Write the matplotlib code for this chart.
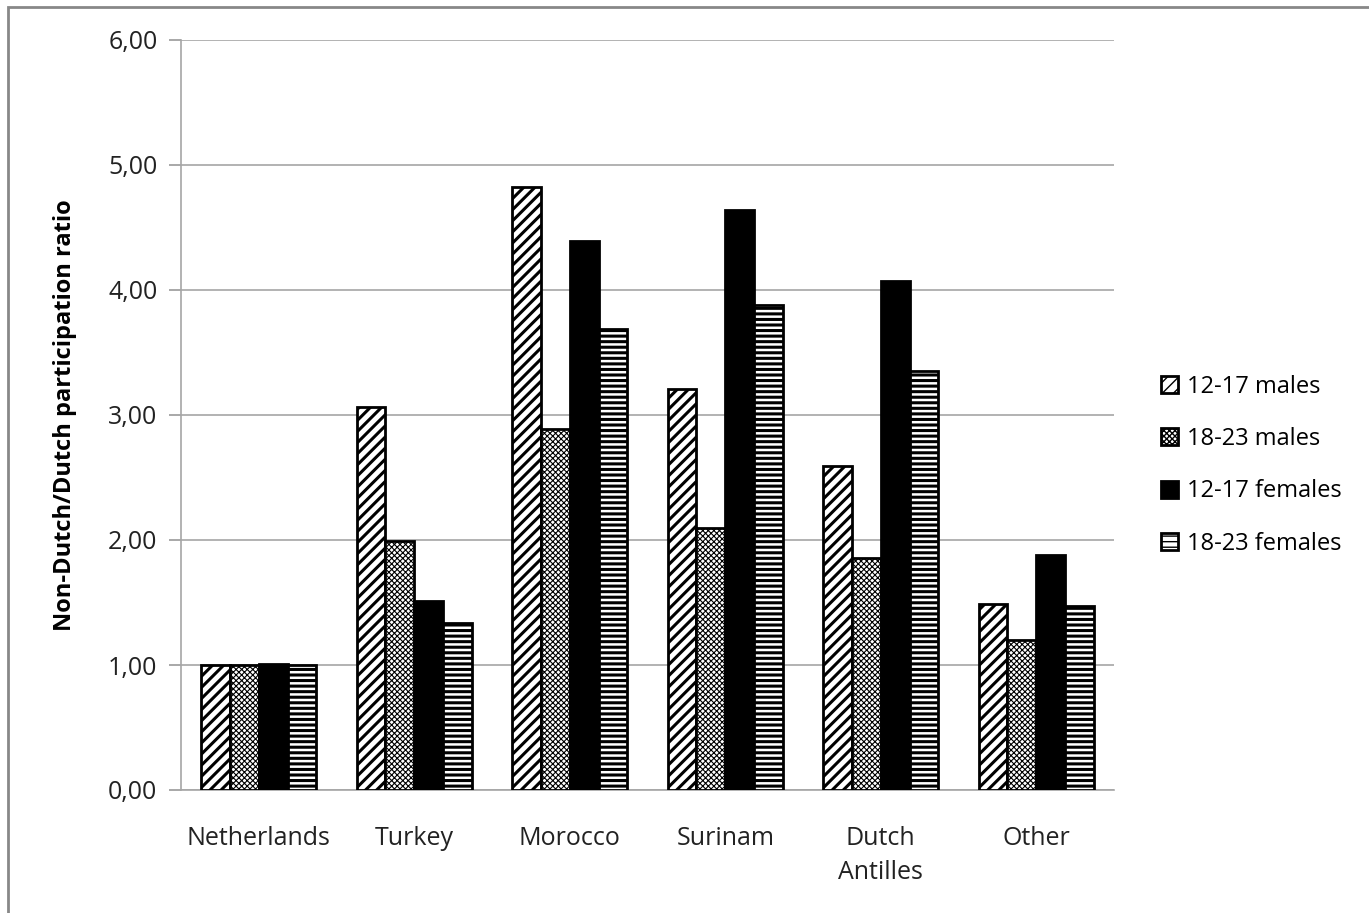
import numpy as np
import matplotlib
matplotlib.use("Agg")
import matplotlib.pyplot as plt
from matplotlib.patches import Rectangle

countries = ["Netherlands", "Turkey", "Morocco", "Surinam", "Dutch\nAntilles", "Other"]
series_names = ["12-17 males", "18-23 males", "12-17 females", "18-23 females"]
males_12_17 = [1.00, 3.06, 4.82, 3.21, 2.59, 1.49]
males_18_23 = [1.00, 1.99, 2.89, 2.10, 1.86, 1.20]
females_12_17 = [1.01, 1.51, 4.39, 4.64, 4.07, 1.88]
females_18_23 = [1.00, 1.34, 3.69, 3.88, 3.35, 1.47]
y_ticks = [0, 1, 2, 3, 4, 5, 6]

plt.rcParams["font.family"] = ["Open Sans", "DejaVu Sans"]

W, H = 1369, 913
fig = plt.figure(figsize=(W / 100, H / 100), dpi=100)
ax = fig.add_axes([181 / W, 1 - 790 / H, (1114 - 181) / W, 750 / H])

# outer chart border
fig.patches.append(Rectangle((8 / W, -0.01), 1.0, 1 - 7 / H + 0.01, transform=fig.transFigure,
                             fill=False, edgecolor="#888888", linewidth=2))

x = np.arange(len(countries))
w = 0.185
styles = [
    (males_12_17, dict(color="white", hatch="///"), 2.2),
    (males_18_23, dict(color="white", hatch="xxxxxx"), 0.8),
    (females_12_17, dict(color="black"), 1.0),
    (females_18_23, dict(color="white", hatch="---"), 2.2),
]
for i, (vals, kw, hlw) in enumerate(styles):
    with plt.rc_context({"hatch.linewidth": hlw}):
        ax.bar(x + (i - 1.5) * w, vals, w, edgecolor="black", linewidth=2,
               label=series_names[i], zorder=3, **kw)

ax.set_xlim(-0.5, len(countries) - 0.5)
ax.set_ylim(0, 6)
ax.set_yticks(y_ticks)
ax.set_yticklabels([f"{t:.2f}".replace(".", ",") for t in y_ticks], fontsize=18, color="#222222")
ax.set_xticks(x)
ax.set_xticklabels(countries, fontsize=18, color="#222222", linespacing=1.45)
ax.tick_params(axis="x", length=0, pad=26)
ax.tick_params(axis="y", length=9, color="#9a9a9a", width=1.2, pad=8)
ax.grid(axis="y", color="#a6a6a6", linewidth=1.2, zorder=0)
for s in ["top", "right"]:
    ax.spines[s].set_visible(False)
for s in ["left", "bottom"]:
    ax.spines[s].set_color("#a6a6a6")
    ax.spines[s].set_linewidth(1.2)

ax.set_ylabel("Non-Dutch/Dutch participation ratio", fontsize=17, fontweight="bold", labelpad=22)

ax.legend(loc="center left", bbox_to_anchor=(1.04, 0.433), frameon=False, fontsize=17,
          handlelength=0.75, handleheight=0.75, handletextpad=0.35, labelspacing=1.2,
          borderaxespad=0)

fig.savefig("out.png", dpi=100)
